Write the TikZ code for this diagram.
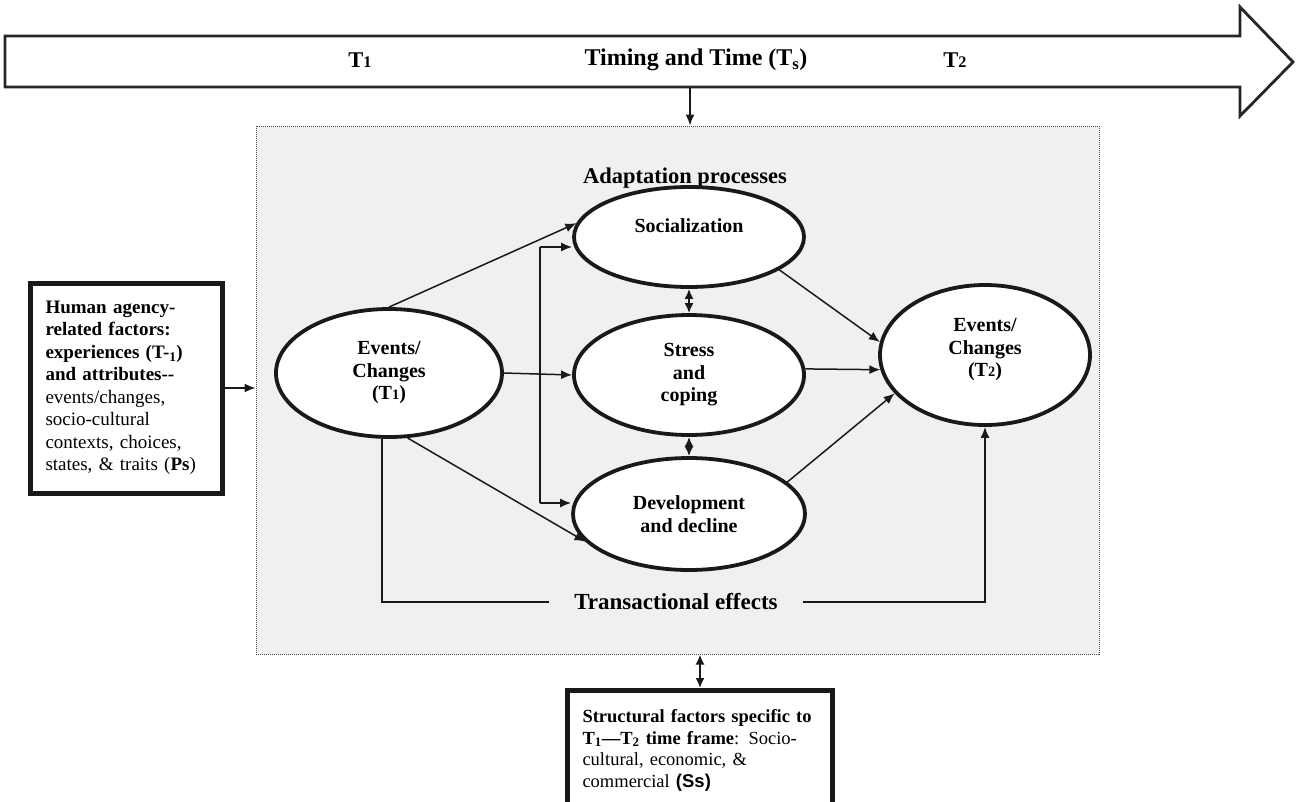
\documentclass[tikz,border=0pt]{standalone}
\usepackage{fontspec}
\setmainfont{Liberation Serif}
\setsansfont{Liberation Sans}
\usetikzlibrary{arrows.meta,shapes.geometric}
\newcommand{\lownum}[1]{\scalebox{0.72}{#1}}

\begin{document}
\begin{tikzpicture}[x=1pt,y=-1pt,
  ell/.style={ellipse, draw=black!90, line width=3.8pt, fill=white, align=center, inner sep=0pt, font=\fontsize{20}{22.5}\selectfont\bfseries},
  box/.style={rectangle, draw=black!90, line width=5pt, fill=white, align=left, inner xsep=15pt, font=\fontsize{19}{22.5}\selectfont},
  arr/.style={-{Latex[length=11pt,width=9pt]}, line width=1.5pt, black!90},
  dbl/.style={{Latex[length=10pt,width=9pt]}-{Latex[length=10pt,width=9pt]}, line width=1.7pt, black!90},
  plain/.style={line width=1.5pt, black!90},
  lbl/.style={font=\fontsize{22.5}{24}\selectfont\bfseries}]
\useasboundingbox (0,0) rectangle (1296,801);
\fill[white] (0,0) rectangle (1296,801);

% time line
\draw[line width=2.8pt, black!85, line join=miter] (5,36) -- (1240,36) -- (1240,7) -- (1293,62) -- (1240,116) -- (1240,87) -- (5,87) -- cycle;
\node[lbl] (tone) at (360,60) {T\lownum{1}};
\node[lbl, font=\fontsize{24}{26}\selectfont\bfseries] (timing) at (696,60) {Timing and Time (T\textsubscript{s})};
\node[lbl] (ttwo) at (955,60) {T\lownum{2}};
\coordinate (tbase) at (690,88);

% frame of the adaptation processes
\node[rectangle, draw=black!70, dash pattern=on 1pt off 1pt, line width=1pt, fill=black!6, minimum width=843, minimum height=528] (frame) at (677.5,390) {};
\node[lbl] (adapt) at (685,178) {Adaptation processes};

\node[ell, minimum width=230, minimum height=100] (soc) at (689,237) {Socialization\\\phantom{S}};
\node[ell, minimum width=230, minimum height=120] (stress) at (689,375) {Stress\\and\\coping};
\node[ell, minimum width=232, minimum height=112] (dev) at (689,514) {Development\\and decline};
\node[ell, minimum width=226, minimum height=128] (t1) at (389,373) {Events/\\Changes\\(T\lownum{1})};
\node[ell, minimum width=210, minimum height=140] (t2) at (985,355) {Events/\\Changes\\(T\lownum{2})\\[-8pt]\phantom{S}};
\node[lbl, font=\fontsize{23}{24}\selectfont\bfseries, inner xsep=25pt] (trans) at (676,602) {Transactional effects};

% outside factors
\node[box, text width=162, minimum height=210] (human) at (126.5,388) {\textbf{Human agency-}\\
\textbf{related factors:}\\
\textbf{experiences (T-\textsubscript{1})}\\
\textbf{and attributes-{}-}\\
events/changes,\\
socio-cultural\\
contexts, choices,\\
states, \& traits (\textbf{Ps})};
\node[box, font=\fontsize{18.5}{21.5}\selectfont, text width=235, minimum height=120, anchor=north west] (ss) at (565,688) {\textbf{Structural factors specific to}\\
\textbf{T\textsubscript{1}---T\textsubscript{2} time frame}: Socio-\\
cultural, economic, \&\\
commercial {\sffamily\bfseries (Ss)}};

% connectors
\draw[arr] (tbase) -- (tbase |- frame.north);
\draw[arr] (human.east) -- (human.east -| frame.west);
\draw[dbl] (ss.north) -- (ss.north |- frame.south);

\draw[arr] (t1.north) -- (soc.173);
\draw[arr] (t1.east) -- (stress.west);
\draw[arr] (t1.-74) -- (dev.195);
\coordinate (brtop) at (540,247);
\coordinate (brbot) at (540,503);
\draw[plain] (brtop) -- (brbot);
\draw[arr] (brtop) -- (brtop -| soc.west);
\draw[arr] (brbot) -- (brbot -| dev.west);
\draw[dbl] (soc.south) -- (stress.north);
\draw[dbl] (stress.south) -- (dev.north);
\draw[arr] (soc.-20) -- (t2.173);
\draw[arr] (stress.3) -- (t2.188);
\draw[arr] (dev.18) -- (t2.203);
\draw[plain] (t1.264) |- (trans.west);
\draw[arr] (trans.east) -| (t2.south);
\end{tikzpicture}
\end{document}
